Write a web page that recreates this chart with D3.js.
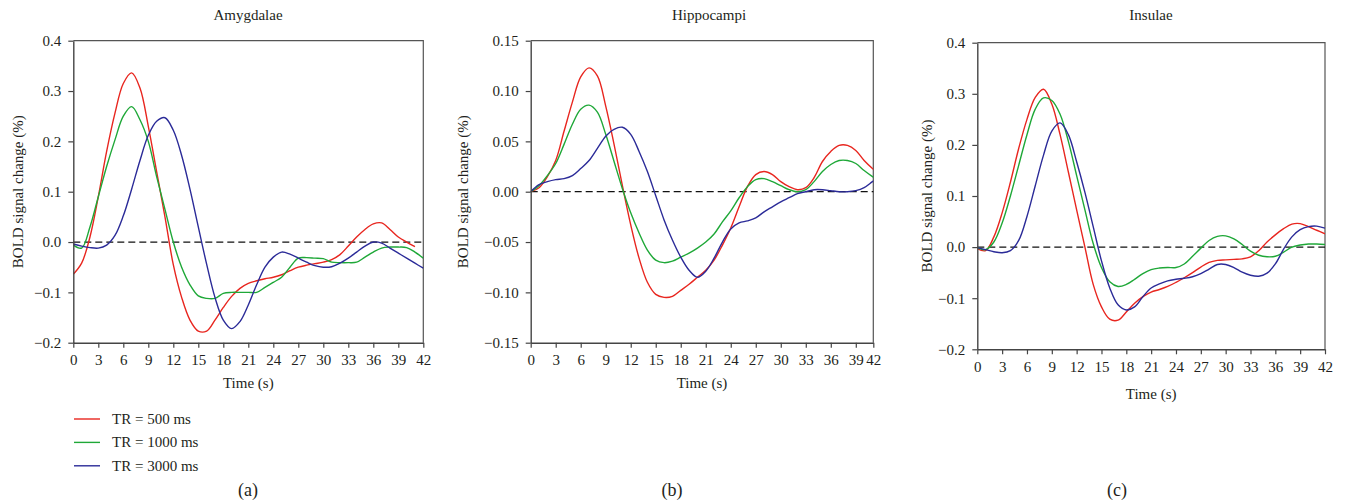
<!DOCTYPE html>
<html>
<head>
<meta charset="utf-8">
<script src="https://cdn.jsdelivr.net/npm/d3@7"></script>
<style>
  body { margin: 0; background: #fff; }
  svg text { font-family: "Liberation Serif", "DejaVu Serif", serif; fill: #231f20; }
</style>
</head>
<body>
<div id="chart"></div>
<script>
// sampling grid (seconds)
const times = d3.range(0, 43, 1);
const xTickLabels = [0, 3, 6, 9, 12, 15, 18, 21, 24, 27, 30, 33, 36, 39, 42];

const seriesNames = ["TR = 500 ms", "TR = 1000 ms", "TR = 3000 ms"];
const seriesColors = ["#e8261f", "#1fa838", "#2b2b98"];

// Amygdalae
const amygRed = [-0.064, -0.042, 0.010, 0.09, 0.18, 0.256, 0.315, 0.336, 0.306, 0.23, 0.14, 0.05, -0.045, -0.11, -0.155, -0.177, -0.177, -0.155, -0.13, -0.108, -0.092, -0.082, -0.077, -0.073, -0.07, -0.065, -0.057, -0.05, -0.046, -0.043, -0.040, -0.035, -0.025, -0.008, 0.01, 0.025, 0.036, 0.038, 0.025, 0.01, 0.0, -0.009, null];
const amygGreen = [-0.006, -0.012, 0.03, 0.09, 0.15, 0.203, 0.25, 0.269, 0.243, 0.2, 0.13, 0.065, 0.0, -0.05, -0.085, -0.107, -0.112, -0.112, -0.102, -0.1, -0.1, -0.1, -0.1, -0.09, -0.08, -0.07, -0.05, -0.032, -0.031, -0.032, -0.033, -0.04, -0.041, -0.041, -0.04, -0.03, -0.02, -0.012, -0.01, -0.01, -0.011, -0.02, -0.032];
const amygBlue = [-0.004, -0.008, -0.011, -0.012, -0.006, 0.013, 0.052, 0.105, 0.162, 0.212, 0.24, 0.247, 0.222, 0.172, 0.105, 0.03, -0.044, -0.11, -0.155, -0.172, -0.158, -0.125, -0.085, -0.05, -0.03, -0.02, -0.024, -0.032, -0.04, -0.047, -0.05, -0.049, -0.042, -0.032, -0.02, -0.008, 0.0, -0.002, -0.012, -0.022, -0.032, -0.042, -0.052];

// Hippocampi
const hippoRed = [0, 0.004, 0.015, 0.031, 0.06, 0.089, 0.114, 0.123, 0.115, 0.085, 0.047, 0.006, -0.033, -0.066, -0.09, -0.102, -0.105, -0.104, -0.098, -0.092, -0.085, -0.078, -0.068, -0.053, -0.036, -0.015, 0.005, 0.017, 0.02, 0.017, 0.01, 0.005, 0.002, 0.004, 0.014, 0.03, 0.04, 0.046, 0.046, 0.041, 0.031, 0.023, 0.016];
const hippoGreen = [0, 0.006, 0.016, 0.028, 0.047, 0.067, 0.082, 0.086, 0.079, 0.057, 0.03, 0.003, -0.021, -0.041, -0.058, -0.068, -0.0705, -0.069, -0.065, -0.061, -0.056, -0.05, -0.042, -0.03, -0.019, -0.006, 0.005, 0.012, 0.013, 0.01, 0.006, 0.002, 0.0, 0.002, 0.01, 0.02, 0.027, 0.031, 0.031, 0.028, 0.021, 0.015, 0.01];
const hippoBlue = [0, 0.007, 0.01, 0.012, 0.013, 0.016, 0.023, 0.031, 0.043, 0.055, 0.062, 0.064, 0.057, 0.04, 0.02, -0.004, -0.028, -0.048, -0.065, -0.078, -0.085, -0.079, -0.066, -0.05, -0.037, -0.031, -0.029, -0.026, -0.02, -0.015, -0.01, -0.006, -0.002, 0.0, 0.002, 0.002, 0.001, 0.0, 0.0, 0.001, 0.004, 0.01, 0.016];

// Insulae
const insRed = [-0.003, -0.007, 0.02, 0.067, 0.127, 0.193, 0.25, 0.293, 0.309, 0.28, 0.22, 0.147, 0.073, 0.0, -0.073, -0.117, -0.141, -0.143, -0.127, -0.11, -0.097, -0.088, -0.083, -0.077, -0.069, -0.06, -0.05, -0.039, -0.03, -0.026, -0.025, -0.024, -0.023, -0.019, -0.007, 0.01, 0.024, 0.036, 0.045, 0.046, 0.04, 0.033, 0.026];
const insGreen = [-0.001, -0.005, 0.01, 0.047, 0.1, 0.16, 0.22, 0.27, 0.292, 0.287, 0.26, 0.207, 0.14, 0.073, 0.007, -0.04, -0.068, -0.077, -0.073, -0.063, -0.052, -0.044, -0.041, -0.04, -0.04, -0.033, -0.018, -0.002, 0.013, 0.021, 0.022, 0.016, 0.005, -0.008, -0.016, -0.019, -0.018, -0.01, 0.0, 0.004, 0.006, 0.006, 0.005];
const insBlue = [-0.001, -0.005, -0.009, -0.011, -0.007, 0.013, 0.06, 0.12, 0.18, 0.227, 0.243, 0.22, 0.167, 0.107, 0.04, -0.027, -0.08, -0.113, -0.123, -0.117, -0.097, -0.08, -0.072, -0.066, -0.063, -0.061, -0.058, -0.052, -0.043, -0.034, -0.034, -0.04, -0.049, -0.055, -0.057, -0.051, -0.033, -0.004, 0.02, 0.034, 0.04, 0.041, 0.037];

const yTicksAmyg = [-0.2, -0.1, 0.0, 0.1, 0.2, 0.3, 0.4];
const yTicksHippo = [-0.15, -0.10, -0.05, 0.00, 0.05, 0.10, 0.15];
const yTicksIns = [-0.2, -0.1, 0.0, 0.1, 0.2, 0.3, 0.4];

const panels = [
  { title: "Amygdalae", tag: "(a)", series: [amygRed, amygGreen, amygBlue], yTicks: yTicksAmyg, fmt: ".1f",
    left: 73.3, right: 423.3, top: 40.7, bottom: 342.7, xMax: 42, titleX: 248, yLabX: 18, xLabY: 388, tagX: 248 },
  { title: "Hippocampi", tag: "(b)", series: [hippoRed, hippoGreen, hippoBlue], yTicks: yTicksHippo, fmt: ".2f",
    left: 530.7, right: 873.3, top: 40.7, bottom: 342.7, xMax: 41.1, titleX: 709, yLabX: 463, xLabY: 388, tagX: 672 },
  { title: "Insulae", tag: "(c)", series: [insRed, insGreen, insBlue], yTicks: yTicksIns, fmt: ".1f",
    left: 977.3, right: 1325, top: 42.7, bottom: 349.3, xMax: 42, titleX: 1151, yLabX: 927, xLabY: 399, tagX: 1117 }
];

const svg = d3.select("#chart").append("svg")
  .attr("width", 1346)
  .attr("height", 502);

const minus = s => s.replace("-", "\u2212");

panels.forEach((p, pi) => {
  const x = d3.scaleLinear().domain([0, p.xMax]).range([p.left, p.right]);
  const y = d3.scaleLinear().domain([p.yTicks[0], p.yTicks[p.yTicks.length - 1]]).range([p.bottom, p.top]);

  // clip for the curves
  svg.append("clipPath").attr("id", "clip" + pi)
    .append("rect")
    .attr("x", p.left).attr("y", p.top)
    .attr("width", p.right - p.left).attr("height", p.bottom - p.top);

  // top and right frame
  svg.append("path")
    .attr("d", `M${p.left},${p.top}H${p.right}V${p.bottom}`)
    .attr("fill", "none")
    .attr("stroke", "#555")
    .attr("stroke-width", 1.2);

  // zero reference line
  svg.append("line")
    .attr("x1", p.left).attr("x2", p.right)
    .attr("y1", y(0)).attr("y2", y(0))
    .attr("stroke", "#111")
    .attr("stroke-width", 1.3)
    .attr("stroke-dasharray", "7,4");

  // curves
  const line = d3.line()
    .defined(d => d.v != null)
    .x(d => x(d.t))
    .y(d => y(d.v))
    .curve(d3.curveCatmullRom);

  p.series.forEach((vals, si) => {
    svg.append("path")
      .datum(times.map((t, i) => ({ t: t, v: vals[i] })))
      .attr("clip-path", `url(#clip${pi})`)
      .attr("fill", "none")
      .attr("stroke", seriesColors[si])
      .attr("stroke-width", 1.4)
      .attr("d", line);
  });

  // x axis (tick "42" sits at the right edge)
  const xAxis = svg.append("g")
    .attr("transform", `translate(0,${p.bottom})`)
    .call(d3.axisBottom(x)
      .tickValues(xTickLabels.map(v => Math.min(v, p.xMax)))
      .tickFormat((d, i) => xTickLabels[i])
      .tickSize(5).tickSizeOuter(0).tickPadding(7));

  // y axis
  const yAxis = svg.append("g")
    .attr("transform", `translate(${p.left},0)`)
    .call(d3.axisLeft(y)
      .tickValues(p.yTicks)
      .tickFormat(d => minus(d3.format(p.fmt)(d)))
      .tickSize(5).tickSizeOuter(0).tickPadding(7));

  [xAxis, yAxis].forEach(g => {
    g.select(".domain").attr("stroke", "#444").attr("stroke-width", 1.4);
    g.selectAll(".tick line").attr("stroke", "#444").attr("stroke-width", 1.2);
    g.selectAll(".tick text").attr("font-size", 15).attr("font-family", "Liberation Serif").attr("fill", "#231f20");
  });

  // title
  svg.append("text")
    .attr("x", p.titleX).attr("y", 20)
    .attr("text-anchor", "middle")
    .attr("font-size", 15)
    .text(p.title);

  // y label
  svg.append("text")
    .attr("transform", `translate(${p.yLabX},${(p.top + p.bottom) / 2}) rotate(-90)`)
    .attr("text-anchor", "middle")
    .attr("dy", "0.35em")
    .attr("font-size", 15)
    .text("BOLD signal change (%)");

  // x label
  svg.append("text")
    .attr("x", (p.left + p.right) / 2).attr("y", p.xLabY)
    .attr("text-anchor", "middle")
    .attr("font-size", 15)
    .text("Time (s)");

  // panel tag
  svg.append("text")
    .attr("x", p.tagX).attr("y", 496)
    .attr("text-anchor", "middle")
    .attr("font-size", 18)
    .text(p.tag);
});

// legend
const legend = svg.selectAll(".legend")
  .data(seriesNames)
  .enter().append("g")
  .attr("class", "legend")
  .attr("transform", (d, i) => `translate(74,${419 + i * 23.4})`);

legend.append("line")
  .attr("x1", 0).attr("x2", 26)
  .attr("stroke", (d, i) => seriesColors[i])
  .attr("stroke-width", 1.4);

legend.append("text")
  .attr("x", 38)
  .attr("dy", "0.33em")
  .attr("font-size", 15)
  .text(d => d);
</script>
</body>
</html>
